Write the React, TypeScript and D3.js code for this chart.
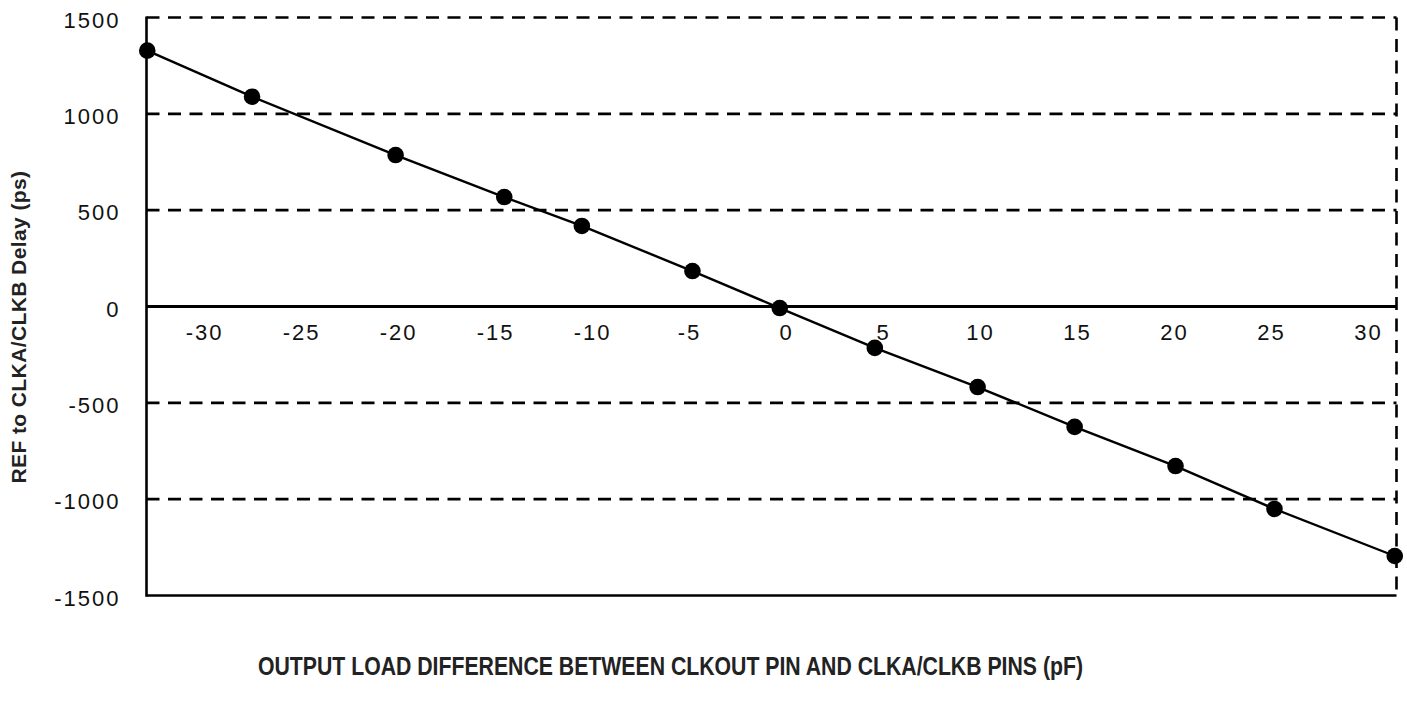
import React from "react";
import * as d3 from "d3";

// Output load difference (pF) and measured REF to CLKA/CLKB delay (ps)
const loadDiff = [-32.9, -27.5, -20.1, -14.5, -10.5, -4.8, -0.3, 4.6, 9.9, 14.9, 20.1, 25.2, 31.4];
const delayPs = [1328, 1089, 786, 568, 418, 184, -8, -215, -418, -625, -828, -1051, -1295];

const xTickLabels = [-30, -25, -20, -15, -10, -5, 0, 5, 10, 15, 20, 25, 30];
const yTickLabels = [1500, 1000, 500, 0, -500, -1000, -1500];

const xDomain = [-32.94, 31.49];
const yDomain = [-1500, 1500];

const yTitle = "REF to CLKA/CLKB Delay (ps)";
const xTitle = "OUTPUT LOAD DIFFERENCE BETWEEN CLKOUT PIN AND CLKA/CLKB PINS (pF)";

const W = 1407;
const H = 707;
const left = 146.5;
const right = 1396.5;
const top = 17.5;
const bottom = 595.5;

export default function App() {
  const x = d3.scaleLinear().domain(xDomain).range([left, right]);
  const y = d3.scaleLinear().domain(yDomain).range([bottom, top]);

  const pts: [number, number][] = loadDiff.map((v, i) => [v, delayPs[i]]);
  const line = d3
    .line<[number, number]>()
    .x((d) => x(d[0]))
    .y((d) => y(d[1]));

  const tickFont = "'Liberation Sans', Arial, Helvetica, sans-serif";
  const ls = 2;

  return (
    <svg
      width={W}
      height={H}
      style={{ position: "absolute", left: 0, top: 0, background: "#fff" }}
    >
      <rect x={0} y={0} width={W} height={H} fill="#fff" />
      {/* dashed gridlines */}
      {yTickLabels
        .filter((v) => v !== 0 && v !== -1500)
        .map((v) => (
          <line
            key={"g" + v}
            x1={left}
            x2={right}
            y1={y(v)}
            y2={y(v)}
            stroke="#000"
            strokeWidth={2.6}
            strokeDasharray="13,8.5"
          />
        ))}
      {/* right dashed border */}
      <line
        x1={right}
        x2={right}
        y1={top}
        y2={bottom}
        stroke="#000"
        strokeWidth={2.6}
        strokeDasharray="13,8.5"
      />
      {/* zero line */}
      <line x1={left} x2={right} y1={y(0)} y2={y(0)} stroke="#000" strokeWidth={3} />
      {/* bottom line */}
      <line x1={left} x2={right} y1={bottom} y2={bottom} stroke="#000" strokeWidth={2.6} />
      {/* left axis */}
      <line x1={left} x2={left} y1={top - 1} y2={bottom + 1.3} stroke="#000" strokeWidth={2.6} />

      {/* y tick labels */}
      {yTickLabels.map((v) => (
        <text
          key={"yl" + v}
          x={120.5}
          y={y(v) + 10}
          textAnchor="end"
          fontFamily={tickFont}
          fontSize={22}
          letterSpacing={ls}
          fill="#111"
        >
          {v}
        </text>
      ))}

      {/* x tick labels */}
      {xTickLabels.map((v) => (
        <text
          key={"xl" + v}
          x={x(v) + ls / 2}
          y={340}
          textAnchor="middle"
          fontFamily={tickFont}
          fontSize={22}
          letterSpacing={ls}
          fill="#111"
        >
          {v}
        </text>
      ))}

      {/* series */}
      <path d={line(pts) || ""} fill="none" stroke="#000" strokeWidth={2.4} />
      {pts.map((d, i) => (
        <circle key={"p" + i} cx={x(d[0])} cy={y(d[1])} r={8.3} fill="#000" />
      ))}

      {/* axis titles */}
      <text
        transform={`translate(26,327) rotate(-90)`}
        textAnchor="middle"
        fontFamily={tickFont}
        fontWeight="bold"
        fontSize={21}
        letterSpacing={0.4}
        fill="#222"
      >
        {yTitle}
      </text>
      <text
        x={258}
        y={675}
        textLength={825}
        lengthAdjust="spacingAndGlyphs"
        fontFamily="'Liberation Sans Narrow', 'Arial Narrow', 'Liberation Sans', Arial, sans-serif"
        fontWeight="bold"
        fontSize={25}
        fill="#222"
      >
        {xTitle}
      </text>
    </svg>
  );
}
